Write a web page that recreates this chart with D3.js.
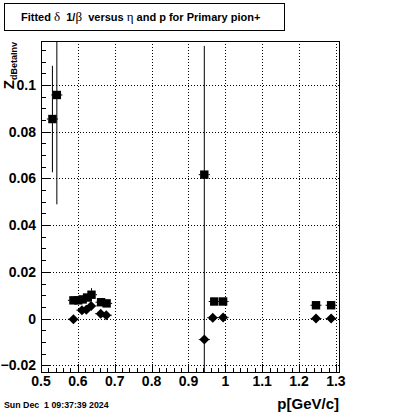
<!DOCTYPE html>
<html>
<head>
<meta charset="utf-8">
<title>Fitted delta 1/beta</title>
<script src="https://cdn.jsdelivr.net/npm/d3@7"></script>
<style>
  body { margin: 0; background: #fff; }
  text { font-family: "Liberation Sans", Arial, sans-serif; font-weight: bold; }
  .greek { font-family: "Liberation Serif", "DejaVu Serif", serif; font-weight: normal; }
</style>
</head>
<body>
<script>
// squares
var sqP   = [0.531, 0.543, 0.588, 0.601, 0.613, 0.625, 0.637, 0.663, 0.678, 0.943, 0.970, 0.994, 1.246, 1.287];
var sqZ   = [0.0854, 0.0957, 0.0078, 0.0078, 0.0082, 0.0090, 0.0102, 0.0070, 0.0065, 0.0616, 0.0073, 0.0073, 0.0057, 0.0057];
var sqErr = [0.0228, 0.0468, 0.0008, 0.0008, 0.0008, 0.0010, 0.0028, 0.0008, 0.0008, 0.0015, 0.0008, 0.0008, 0.0005, 0.0005];
// diamonds
var dmP   = [0.588, 0.611, 0.623, 0.636, 0.662, 0.677, 0.943, 0.966, 0.994, 1.246, 1.287];
var dmZ   = [-0.0003, 0.0036, 0.0038, 0.0054, 0.0021, 0.0014, -0.0090, 0.0004, 0.0005, 0.0, 0.0];
var dmErr = [0.0005, 0.0008, 0.0008, 0.0010, 0.0008, 0.0008, 0.1257, 0.0005, 0.0005, 0.0003, 0.0003];
var pErr = 0.015;

var xTicks = [0.5, 0.6, 0.7, 0.8, 0.9, 1, 1.1, 1.2, 1.3];
var xTickLabels = ["0.5", "0.6", "0.7", "0.8", "0.9", "1", "1.1", "1.2", "1.3"];
var yTicks = [-0.02, 0, 0.02, 0.04, 0.06, 0.08, 0.1];
var yTickLabels = ["\u22120.02", "0", "0.02", "0.04", "0.06", "0.08", "0.1"];

var W = 400, H = 414;
var fL = 41, fR = 340, fT = 41, fB = 373;

var x = d3.scaleLinear().domain([0.5, 1.3111]).range([fL, fR]);
var y = d3.scaleLinear().domain([-0.0233, 0.1188]).range([fB, fT]);

var svg = d3.select("body").append("svg")
            .attr("width", W)
            .attr("height", H);

svg.append("defs").append("clipPath").attr("id", "frame")
   .append("rect").attr("x", fL).attr("y", fT).attr("width", fR - fL).attr("height", fB - fT);

// grid
svg.selectAll(".gx").data(xTicks.slice(1)).enter().append("line")
   .attr("x1", function(d) { return Math.round(x(d)) + 0.5; })
   .attr("x2", function(d) { return Math.round(x(d)) + 0.5; })
   .attr("y1", fT).attr("y2", fB)
   .attr("stroke", "#000").attr("stroke-dasharray", "1,2");
svg.selectAll(".gy").data(yTicks).enter().append("line")
   .attr("y1", function(d) { return Math.round(y(d)) + 0.5; })
   .attr("y2", function(d) { return Math.round(y(d)) + 0.5; })
   .attr("x1", fL).attr("x2", fR)
   .attr("stroke", "#000").attr("stroke-dasharray", "1,2");

// frame
svg.append("rect").attr("x", fL + 0.5).attr("y", fT + 0.5)
   .attr("width", fR - fL - 1).attr("height", fB - fT - 1)
   .attr("fill", "none").attr("stroke", "#000");

// x ticks, inward
var xMinor = d3.range(0, 41).map(function(i) { return 0.5 + i * 0.02; }).filter(function(v) { return v <= 1.3111; });
svg.selectAll(".txm").data(xMinor).enter().append("line")
   .attr("x1", function(d) { return Math.round(x(d)) + 0.5; })
   .attr("x2", function(d) { return Math.round(x(d)) + 0.5; })
   .attr("y1", fB).attr("y2", function(d, i) { return i % 5 == 0 ? fB - 9 : fB - 5; })
   .attr("stroke", "#000");

var yMinor = d3.range(-4, 24).map(function(i) { return i * 0.005; });
svg.selectAll(".tym").data(yMinor).enter().append("line")
   .attr("y1", function(d) { return Math.round(y(d)) + 0.5; })
   .attr("y2", function(d) { return Math.round(y(d)) + 0.5; })
   .attr("x1", fL).attr("x2", function(d, i) { return i % 4 == 0 ? fL + 9 : fL + 5; })
   .attr("stroke", "#000");

// tick labels
svg.selectAll(".xl").data(xTicks).enter().append("text")
   .attr("x", function(d) { return x(d); })
   .attr("y", 386)
   .attr("text-anchor", "middle")
   .attr("font-size", "14px")
   .text(function(d, i) { return xTickLabels[i]; });
svg.selectAll(".yl").data(yTicks).enter().append("text")
   .attr("x", 36)
   .attr("y", function(d) { return y(d) + 5; })
   .attr("text-anchor", "end")
   .attr("font-size", "14px")
   .text(function(d, i) { return yTickLabels[i]; });

// axis titles
svg.append("text").attr("x", 339).attr("y", 409)
   .attr("text-anchor", "end").attr("font-size", "15px").text("p[GeV/c]");

var yt = svg.append("text").attr("transform", "translate(14,42) rotate(-90)")
   .attr("text-anchor", "end");
yt.append("tspan").attr("font-size", "15px").text("Z");
yt.append("tspan").attr("font-size", "9px").attr("dy", 3).text("dBetaInv");

// points
var plot = svg.append("g").attr("clip-path", "url(#frame)");

function drawErrors(P, Z, E, half) {
  P.forEach(function(p, i) {
    var cx = x(p), cy = y(Z[i]);
    var top = y(Z[i] + E[i]), bot = y(Z[i] - E[i]);
    if (cy - top > half) plot.append("line").attr("x1", cx).attr("x2", cx).attr("y1", top).attr("y2", cy - half).attr("stroke", "#000");
    if (bot - cy > half) plot.append("line").attr("x1", cx).attr("x2", cx).attr("y1", cy + half).attr("y2", bot).attr("stroke", "#000");
    var l = x(p - pErr), r = x(p + pErr);
    if (cx - l > half) plot.append("line").attr("y1", cy).attr("y2", cy).attr("x1", l).attr("x2", cx - half).attr("stroke", "#000");
    if (r - cx > half) plot.append("line").attr("y1", cy).attr("y2", cy).attr("x1", cx + half).attr("x2", r).attr("stroke", "#000");
  });
}
drawErrors(sqP, sqZ, sqErr, 4);
drawErrors(dmP, dmZ, dmErr, 4.5);

plot.selectAll(".sq").data(sqP).enter().append("rect")
   .attr("x", function(d) { return x(d) - 4.2; })
   .attr("y", function(d, i) { return y(sqZ[i]) - 4.2; })
   .attr("width", 8.4).attr("height", 8.4)
   .attr("fill", "#000");

plot.selectAll(".dm").data(dmP).enter().append("path")
   .attr("d", function(d, i) {
     var cx = x(d), cy = y(dmZ[i]), h = 5;
     return "M" + cx + "," + (cy - h) + "L" + (cx + h) + "," + cy + "L" + cx + "," + (cy + h) + "L" + (cx - h) + "," + cy + "Z";
   })
   .attr("fill", "#000");

// title box
svg.append("rect").attr("x", 4.5).attr("y", 3.5).attr("width", 280).attr("height", 27)
   .attr("fill", "#fff").attr("stroke", "#000");
var tt = svg.append("text").attr("x", 21).attr("y", 21).attr("font-size", "11px")
   .attr("xml:space", "preserve");
tt.append("tspan").text("Fitted ");
tt.append("tspan").attr("class", "greek").attr("font-size", "13px").text("\u03b4");
tt.append("tspan").text("  1/");
tt.append("tspan").attr("class", "greek").attr("font-size", "13px").text("\u03b2");
tt.append("tspan").text("  versus ");
tt.append("tspan").attr("class", "greek").attr("font-size", "13px").text("\u03b7");
tt.append("tspan").text(" and p for Primary pion+");

// date
svg.append("text").attr("x", 4).attr("y", 408).attr("font-size", "8.8px")
   .style("white-space", "pre").text("Sun Dec  1 09:37:39 2024");
</script>
</body>
</html>
